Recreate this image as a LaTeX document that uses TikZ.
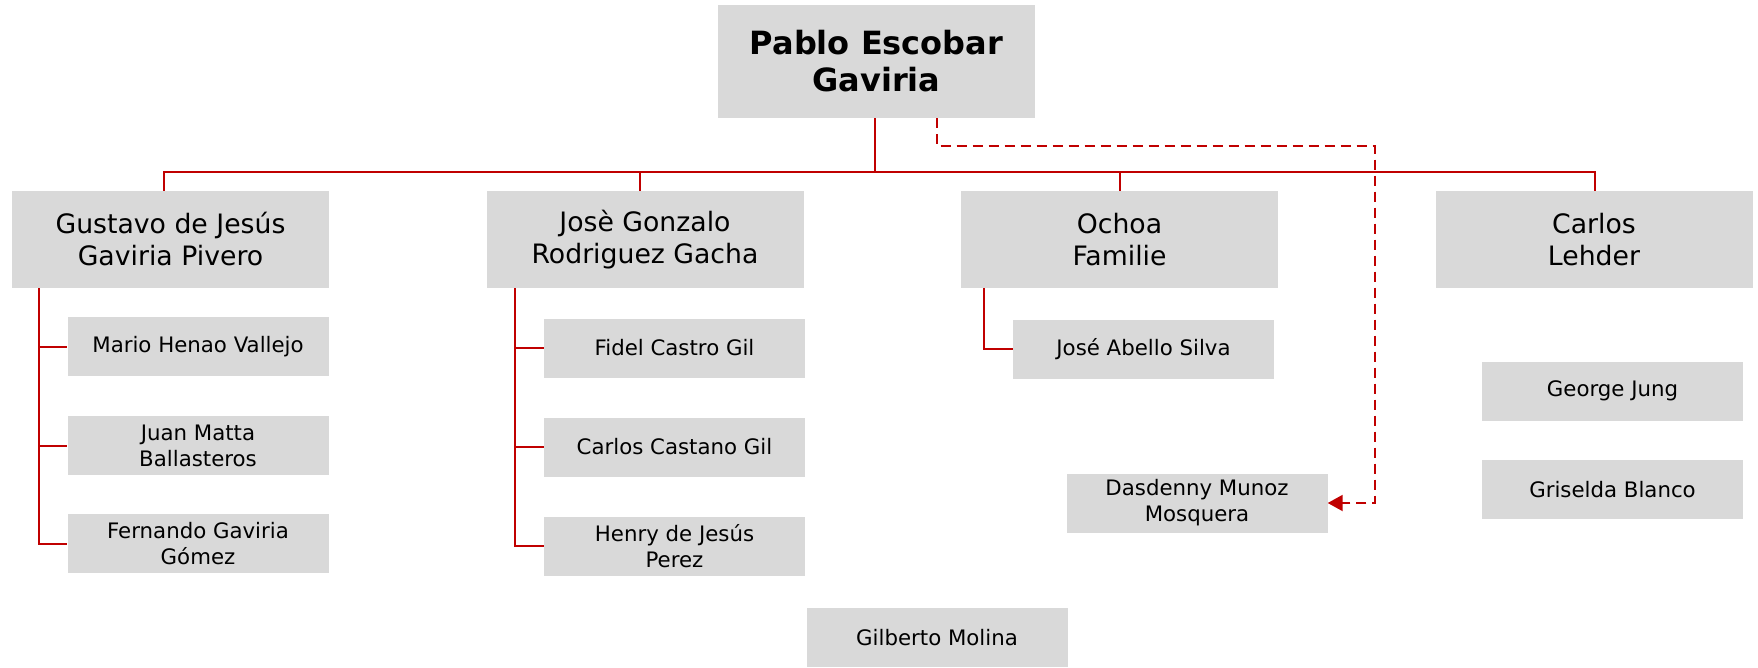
\documentclass[tikz,border=0pt]{standalone}
\usepackage{fontspec}
\setmainfont{DejaVu Sans}
\usetikzlibrary{arrows.meta}

\definecolor{boxgray}{HTML}{D9D9D9}
\definecolor{cartelred}{HTML}{C00000}

\tikzset{
  boss/.style={fill=boxgray, minimum width=317pt, minimum height=113pt, align=center,
    font=\fontsize{32}{37}\selectfont\bfseries},
  head/.style={fill=boxgray, minimum width=317pt, minimum height=97pt, align=center,
    font=\fontsize{26.7}{32}\selectfont},
  member/.style={fill=boxgray, minimum width=261pt, minimum height=59pt, align=center,
    font=\fontsize{21.3}{26}\selectfont},
  tie/.style={cartelred, line width=2pt},
  link/.style={cartelred, line width=2pt, dash pattern=on 10pt off 6pt,
    -{Triangle[length=15pt,width=16pt]}}
}

\begin{document}
\begin{tikzpicture}[x=1pt,y=-1pt]
    \useasboundingbox (0,0) rectangle (1758,667);

    \node[boss] (pablo) at (876.5,61.5) {Pablo Escobar\\Gaviria};

    \node[head] (gustavo) at (170.5,239.5) {Gustavo de Jesús\\Gaviria Pivero};
    \node[head] (jose) at (645,239.5) {Josè Gonzalo\\Rodriguez Gacha};
    \node[head] (ochoa) at (1119.5,239.5) {Ochoa\\Familie};
    \node[head] (lehder) at (1594,239.5) {Carlos\\Lehder};

    \node[member] (mario) at (198,346.5) {Mario Henao Vallejo};
    \node[member] (juan) at (198,445.5) {Juan Matta\\Ballasteros};
    \node[member] (fernando) at (198,543.5) {Fernando Gaviria\\Gómez};

    \node[member] (fidel) at (674.5,348) {Fidel Castro Gil};
    \node[member] (castano) at (674.5,447) {Carlos Castano Gil};
    \node[member] (henry) at (674.5,546) {Henry de Jesús\\Perez};

    \node[member] (abello) at (1143.5,349) {José Abello Silva};
    \node[member] (dasdenny) at (1197,503) {Dasdenny Munoz\\Mosquera};
    \node[member] (gilberto) at (937,637.5) {Gilberto Molina};

    \node[member] (george) at (1612.5,391) {George Jung};
    \node[member] (griselda) at (1612.5,489.5) {Griselda Blanco};

    \coordinate (bus) at (0,172);
    \foreach \n/\dx in {gustavo/-7,jose/-5,ochoa/0,lehder/1}
        \draw[tie] ([xshift=-2pt]pablo.south) |- ([xshift=\dx pt]\n.north |- bus)
            -- ([xshift=\dx pt]\n.north);

    \foreach \n in {mario,juan,fernando}
        \draw[tie] ([xshift=27pt]gustavo.south west) |- (\n.west);
    \foreach \n in {fidel,castano,henry}
        \draw[tie] ([xshift=29pt]jose.south west) |- (\n.west);
    \draw[tie] ([xshift=23pt]ochoa.south west) |- (abello.west);

    \coordinate (bend) at (1375,146);
    \draw[link] ([xshift=60pt]pablo.south) |- (bend) |- (dasdenny.east);
\end{tikzpicture}
\end{document}
